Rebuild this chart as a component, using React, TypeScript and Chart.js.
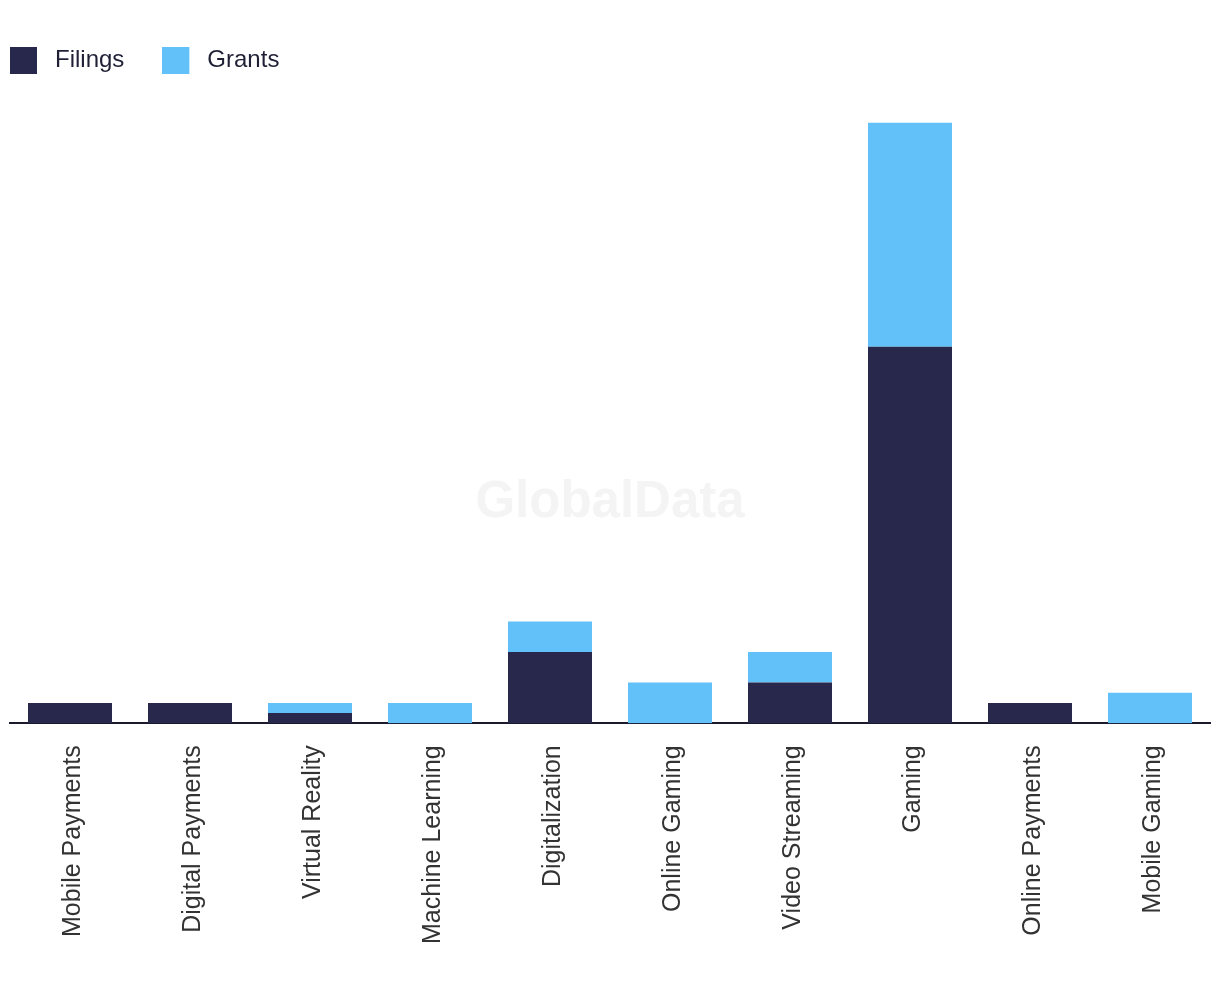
import React, { useEffect, useRef } from "react";
import { Chart, registerables } from "chart.js";

Chart.register(...registerables);

const categories = [
  "Mobile Payments",
  "Digital Payments",
  "Virtual Reality",
  "Machine Learning",
  "Digitalization",
  "Online Gaming",
  "Video Streaming",
  "Gaming",
  "Online Payments",
  "Mobile Gaming",
];
const filings = [2, 2, 1, 0, 7, 0, 4, 37, 2, 0];
const grants = [0, 0, 1, 2, 3, 4, 3, 22, 0, 3];

const NAVY = "#27284b";
const BLUE = "#62c1f9";
const FONT = "'Liberation Sans', Arial, sans-serif";

const watermark = {
  id: "watermark",
  beforeDraw(chart: any) {
    const ctx = chart.ctx;
    ctx.save();
    ctx.font = "bold 51px " + FONT;
    ctx.fillStyle = "#f4f4f4";
    ctx.textAlign = "center";
    ctx.textBaseline = "alphabetic";
    ctx.fillText("GlobalData", chart.width / 2, 517);
    ctx.restore();
  },
};

function makeSwatch(color: string) {
  const c = document.createElement("canvas");
  c.width = 33;
  c.height = 27;
  const g = c.getContext("2d");
  if (g) {
    g.fillStyle = color;
    g.fillRect(0, 0, 27, 27);
  }
  return c;
}

export default function App() {
  const ref = useRef<HTMLCanvasElement | null>(null);
  useEffect(() => {
    if (!ref.current) return;
    const swatches = [makeSwatch(NAVY), makeSwatch(BLUE)];
    const chart = new Chart(ref.current, {
      type: "bar",
      data: {
        labels: categories,
        datasets: [
          { label: "Filings", data: filings, backgroundColor: NAVY, borderWidth: 0 },
          { label: "Grants", data: grants, backgroundColor: BLUE, borderWidth: 0 },
        ],
      },
      plugins: [watermark],
      options: {
        animation: false,
        responsive: false,
        maintainAspectRatio: false,
        datasets: { bar: { barPercentage: 0.7, categoryPercentage: 1.0 } },
        layout: { padding: { left: -28, right: 10, top: 10, bottom: 32 } },
        plugins: {
          tooltip: { enabled: false },
          legend: {
            position: "top",
            align: "start",
            labels: {
              usePointStyle: true,
              pointStyleWidth: 33,
              boxWidth: 27,
              boxHeight: 27,
              padding: 38,
              color: "#1f2036",
              font: { family: FONT, size: 24 },
              generateLabels: (ch: any) =>
                Chart.defaults.plugins.legend.labels
                  .generateLabels(ch)
                  .map((l: any, i: number) => ({ ...l, pointStyle: swatches[i] })),
            },
          },
        },
        scales: {
          x: {
            stacked: true,
            grid: { display: false, drawTicks: false },
            border: { display: true, color: "#1a1a2e", width: 2 },
            ticks: {
              autoSkip: false,
              minRotation: 90,
              maxRotation: 90,
              padding: 22,
              labelOffset: 3,
              color: "#333333",
              font: { family: FONT, size: 25 },
            },
          },
          y: {
            stacked: true,
            display: true,
            min: 0,
            max: 63,
            grid: { display: false, drawTicks: false },
            border: { display: false },
            ticks: { display: false },
            afterFit: (scale: any) => {
              scale.width = 38;
            },
          },
        },
      },
    });
    return () => chart.destroy();
  }, []);
  return (
    <div style={{ position: "absolute", left: 0, top: 0, width: 1220, height: 998 }}>
      <canvas ref={ref} width={1220} height={998} style={{ display: "block" }} />
    </div>
  );
}
